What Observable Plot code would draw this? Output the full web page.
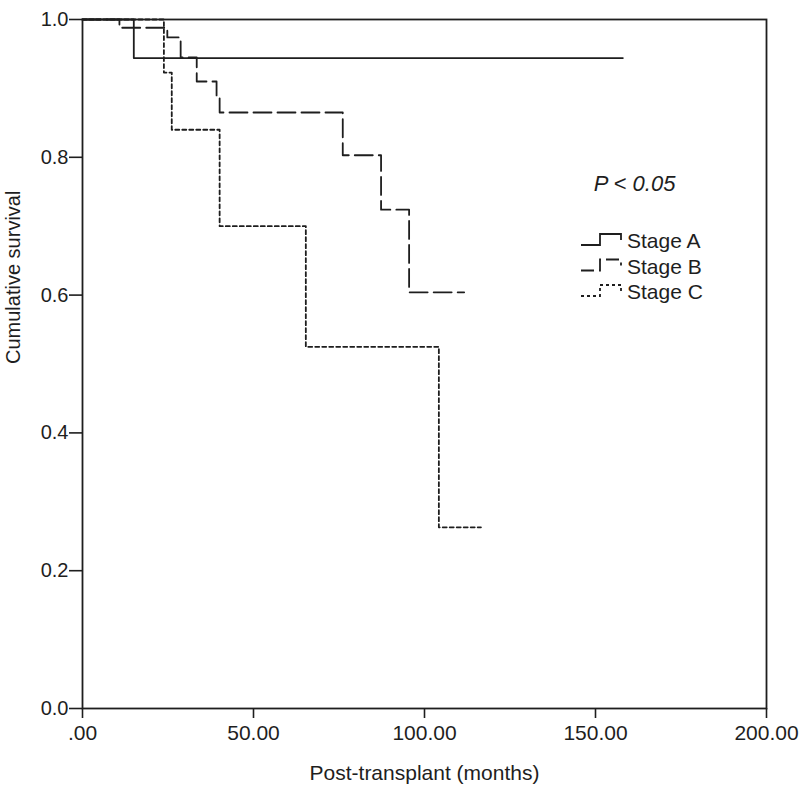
<!DOCTYPE html>
<html><head><meta charset="utf-8">
<script src="https://cdn.jsdelivr.net/npm/d3@7"></script>
<script src="https://cdn.jsdelivr.net/npm/@observablehq/plot@0.6"></script>
<style>body{margin:0;background:#fff;}</style>
</head><body><div id="chart"></div>
<script>
// ---- data ----
const seriesNames = ["Stage A", "Stage B", "Stage C"];
const stageATime = [0, 15, 158];
const stageASurv = [1, 0.944, 0.944];
const stageBTime = [0, 10.8, 24.8, 28.7, 33.4, 39.2, 40.1, 76.1, 87.3, 95.5, 111.6];
const stageBSurv = [1, 0.988, 0.974, 0.945, 0.910, 0.887, 0.865, 0.803, 0.724, 0.604, 0.604];
const stageCTime = [0, 23.8, 26.1, 40.1, 65.3, 104.2, 116.5];
const stageCSurv = [1, 0.923, 0.840, 0.700, 0.525, 0.263, 0.263];
const xTicks = [0, 50, 100, 150, 200];
const xTickLabels = [".00", "50.00", "100.00", "150.00", "200.00"];
const yTicks = [0, 0.2, 0.4, 0.6, 0.8, 1.0];
const yTickLabels = ["0.0", "0.2", "0.4", "0.6", "0.8", "1.0"];
const xTitle = "Post-transplant (months)";
const yTitle = "Cumulative survival";
const pText = "P < 0.05";

// ---- build table ----
function rows(name, t, s) { return t.map((d, i) => ({stage: name, time: d, surv: s[i]})); }
const data = [
  ...rows("Stage A", stageATime, stageASurv),
  ...rows("Stage B", stageBTime, stageBSurv),
  ...rows("Stage C", stageCTime, stageCSurv)
];
const dashes = {"Stage A": null, "Stage B": "18,6", "Stage C": "4,3"};
const legendDashes = {"Stage A": null, "Stage B": "13,5", "Stage C": "3,3"};
const ink = "#1e1e1e";
const font = "'Liberation Sans', Arial, sans-serif";

const plot = Plot.plot({
  width: 800, height: 794,
  marginLeft: 82, marginRight: 34, marginTop: 19, marginBottom: 86,
  style: {fontFamily: font, background: "#fff", color: ink},
  x: {domain: [0, 200]},
  y: {domain: [0, 1]},
  marks: [
    ...seriesNames.map(name => Plot.line(data.filter(d => d.stage === name), {
      x: "time", y: "surv", curve: "step-after",
      stroke: ink, strokeWidth: 1.8,
      strokeDasharray: dashes[name] || undefined
    })),
    Plot.frame({stroke: ink, strokeWidth: 1.8}),
    Plot.axisX(xTicks, {
      tickSize: 10, tickPadding: 7, strokeWidth: 1.6,
      tickFormat: d => xTickLabels[xTicks.indexOf(d)],
      fontSize: 21, label: null, fill: ink
    }),
    Plot.axisY(yTicks, {
      tickSize: 13, tickPadding: 1, strokeWidth: 1.6,
      tickFormat: d => yTickLabels[yTicks.indexOf(d)],
      fontSize: 20, label: null, fill: ink
    }),
    Plot.text([xTitle], {frameAnchor: "bottom", dy: 71, lineAnchor: "bottom", fontSize: 21, fill: ink}),
    Plot.text([yTitle], {frameAnchor: "left", rotate: -90, dx: -69, fontSize: 20, fill: ink}),
    Plot.text([pText], {frameAnchor: "top-left", dx: 634 - 82, dy: 190 - 19, textAnchor: "middle",
      lineAnchor: "bottom", fontStyle: "italic", fontSize: 22, fill: ink})
  ]
});
document.getElementById("chart").appendChild(plot);

// ---- legend ----
const svg = d3.select(plot);
const lg = svg.append("g").attr("transform", "translate(581,248)");
seriesNames.forEach((name, i) => {
  const b = i * 25.5;
  const g = lg.append("g").attr("transform", `translate(0,${b})`);
  g.append("path")
    .attr("d", "M0,-3 H19 V-14 H40 V-8")
    .attr("fill", "none").attr("stroke", ink).attr("stroke-width", 1.8)
    .attr("stroke-dasharray", legendDashes[name]);
  g.append("text").attr("x", 46).attr("y", 0)
    .attr("text-anchor", "start")
    .attr("font-family", font).attr("font-size", 21).attr("fill", ink)
    .text(name);
});
</script>
</body></html>
